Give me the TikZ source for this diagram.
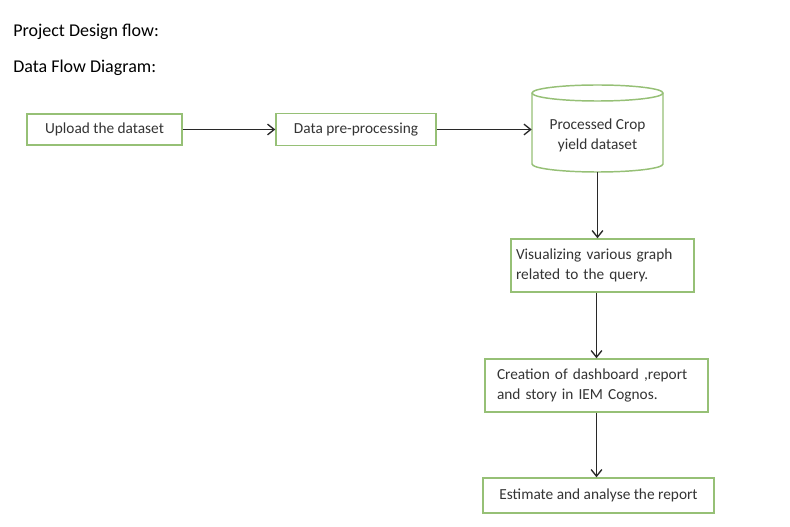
\documentclass[tikz,border=0pt]{standalone}
\usepackage{fontspec}
\setmainfont{Carlito}
\usetikzlibrary{arrows.meta}
\definecolor{leafgreen}{RGB}{150, 192, 118}
\definecolor{inkgray}{RGB}{52, 52, 52}
\definecolor{linegray}{RGB}{40, 40, 40}

\begin{document}
\begin{tikzpicture}[x=0.75pt, y=-0.75pt,
        flowbox/.style={draw=leafgreen, line width=1.1pt, fill=white, text=inkgray,
                        font=\fontsize{11.5}{15}\selectfont, inner sep=0pt},
        flowarrow/.style={draw=linegray, line width=1pt, -{Straight Barb[length=5pt, width=8pt]}}]
            \useasboundingbox (0,0) rectangle (790,527);
            \node[anchor=base west, inner sep=0pt, font=\fontsize{13.5}{16}\selectfont] (title)    at ( 13.0, 37.0) {Project Design flow:};
            \node[anchor=base west, inner sep=0pt, font=\fontsize{13.5}{16}\selectfont] (subtitle) at ( 13.0, 73.0) {Data Flow Diagram:};
            \node[flowbox, minimum width=116.25pt, minimum height=23.25pt]           (upload)   at (104.5,129.5) {Upload the dataset};
            \node[flowbox, minimum width=120.00pt, minimum height=24.00pt]           (preproc)  at (356.0,129.5) {Data pre-processing};
            \node[minimum width=98.25pt, minimum height=65.25pt, inner sep=0pt]      (crop)     at (597.5,128.5) {};
            \filldraw[draw=leafgreen, fill=white, line width=1.1pt] (532.0, 93.0) -- (532.0,164.0) arc (180:0:65.5 and 8)
                 -- (663.0, 93.0) arc (0:-180:65.5 and 8) -- cycle;
            \draw[leafgreen, line width=1.1pt] (532.0, 93.0) arc (180:0:65.5 and 8);
            \node[text=inkgray, font=\fontsize{11.5}{15}\selectfont, align=center] (croplabel) at (597.5,135.0) {Processed Crop\\yield dataset};
            \node[flowbox, minimum height=39.75pt, inner xsep=3.75pt, text width=129.75pt, align=left] (vis)      at (602.5,265.5)
                 {Visualizing various graph\\related to the query.};
            \node[flowbox, minimum height=39.75pt, inner xsep=9.00pt, text width=149.25pt, align=left] (creation) at (596.5,385.5)
                 {Creation of dashboard ,report\\and story in IEM Cognos.};
            \node[flowbox, minimum width=173.25pt, minimum height=26.25pt]           (estimate) at (598.5,495.5) {Estimate and analyse the report};
            \draw[flowarrow] (upload) -- (preproc);
            \draw[flowarrow] (preproc.east) -- (preproc.east -| crop.west);
            \draw[flowarrow] (crop.south) -- (crop.south |- vis.north);
            \draw[flowarrow] (creation.north |- vis.south) -- (creation.north);
            \draw[flowarrow] (creation.south) -- (creation.south |- estimate.north);
\end{tikzpicture}
\end{document}
